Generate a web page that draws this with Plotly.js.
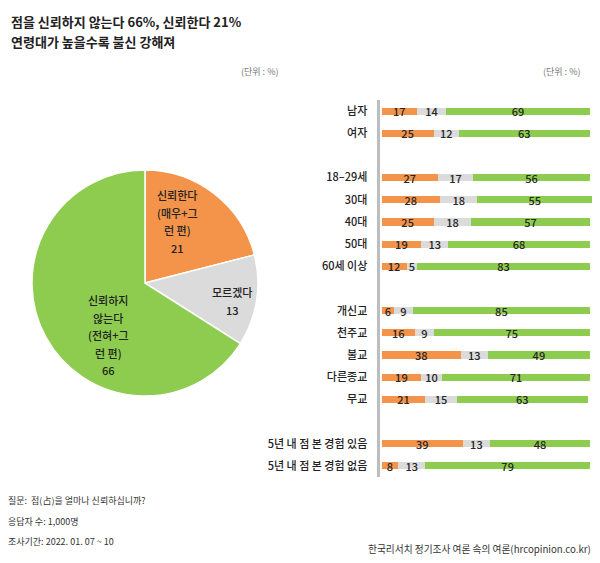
<!DOCTYPE html>
<html>
<head>
<meta charset="utf-8">
<script src="https://cdn.plot.ly/plotly-3.0.1.min.js"></script>
<style>
html,body{margin:0;padding:0;background:#fff;}
#chart{width:600px;height:563px;}
</style>
</head>
<body>
<div id="chart"></div>
<script>
// Pie data
const pieLabels = ['신뢰한다', '모르겠다', '신뢰하지 않는다'];
const pieValues = [21, 13, 66];
const pieTextLines = [
  ['신뢰한다', '(매우+그', '런 편)', '21'],
  ['모르겠다', '13'],
  ['신뢰하지', '않는다', '(전혀+그', '런 편)', '66']
];

// Bar data (null rows are spacer rows)
const categories = ['남자', '여자', ' ', '18–29세', '30대', '40대', '50대', '60세 이상', '  ',
  '개신교', '천주교', '불교', '다른종교', '무교', '   ', '5년 내 점 본 경험 있음', '5년 내 점 본 경험 없음'];
const trust    = [17, 25, null, 27, 28, 25, 19, 12, null, 6, 16, 38, 19, 21, null, 39, 8];
const unknown  = [14, 12, null, 17, 18, 18, 13, 5, null, 9, 9, 13, 10, 15, null, 13, 13];
const distrust = [69, 63, null, 56, 55, 57, 68, 83, null, 85, 75, 49, 71, 63, null, 48, 79];

const cOrange = '#F4944B', cGray = '#DBDBDB', cGreen = '#8DCC4E';
const font = 'Noto Sans CJK KR, Noto Sans, sans-serif';

function barTrace(vals, color, name) {
  return {
    type: 'bar', orientation: 'h', name: name,
    y: categories, x: vals,
    marker: {color: color, line: {width: 0}},
    text: vals.map(v => v === null ? '' : String(v)),
    textposition: 'inside', insidetextanchor: 'middle', textangle: 0,
    constraintext: 'none', cliponaxis: false,
    textfont: {family: font, size: 11, color: '#262626', weight: 500},
    hoverinfo: 'x+y', xaxis: 'x', yaxis: 'y'
  };
}

const data = [
  {
    type: 'pie', labels: pieLabels, values: pieValues,
    textinfo: 'none',
    sort: false, direction: 'clockwise', rotation: 0,
    marker: {colors: [cOrange, cGray, cGreen], line: {color: '#ffffff', width: 1.5}},
    domain: {x: [32/600, 258/600], y: [1 - 396/563, 1 - 170/563]},
    showlegend: false, hoverinfo: 'label+value'
  },
  barTrace(trust, cOrange, '신뢰한다'),
  barTrace(unknown, cGray, '모르겠다'),
  barTrace(distrust, cGreen, '신뢰하지 않는다')
];

function ann(text, xpx, ypx, opts) {
  return Object.assign({
    text: text, x: xpx / 600, y: 1 - ypx / 563, xref: 'paper', yref: 'paper',
    xanchor: 'left', yanchor: 'middle', showarrow: false,
    font: {family: font, size: 9, color: '#333'}
  }, opts || {});
}

const annotations = [
  ann('점을 신뢰하지 않는다 66%, 신뢰한다 21%', 9, 22, {font: {family: font, size: 13, color: '#222', weight: 600}}),
  ann('연령대가 높을수록 불신 강해져', 9, 42, {font: {family: font, size: 13, color: '#222', weight: 600}}),
  ann('(단위 : %)', 280, 71, {xanchor: 'right', font: {family: font, size: 9, color: '#777'}}),
  ann('(단위 : %)', 582, 71, {xanchor: 'right', font: {family: font, size: 9, color: '#777'}}),
  ann('질문:  점(占)을 얼마나 신뢰하십니까?', 6, 500),
  ann('응답자 수: 1,000명', 6, 521),
  ann('조사기간: 2022. 01. 07 ~ 10', 6, 541),
  ann('한국리서치 정기조사 여론 속의 여론(hrcopinion.co.kr)', 593, 549, {xanchor: 'right', font: {family: font, size: 9.7, color: '#333'}})
];

// pie slice labels, one line per annotation for the reference's line pitch
const pieLabelPos = [[177, 195], [232, 292], [108, 300]];
const linePitch = 17.5;
pieTextLines.forEach((lines, i) => {
  lines.forEach((line, j) => {
    annotations.push(ann(line, pieLabelPos[i][0], pieLabelPos[i][1] + j * linePitch,
      {xanchor: 'center', font: {family: font, size: 11, color: '#222', weight: 500}}));
  });
});

const layout = {
  width: 600, height: 563,
  margin: {l: 0, r: 0, t: 0, b: 0},
  paper_bgcolor: '#ffffff', plot_bgcolor: '#ffffff',
  showlegend: false, barmode: 'stack', bargap: 0.68,
  font: {family: font, color: '#222'},
  xaxis: {domain: [379.5/600, 592/600], range: [-1, 101], visible: false, fixedrange: true},
  yaxis: {
    domain: [1 - 477/563, 1 - 100/563], type: 'category',
    categoryorder: 'array', categoryarray: categories,
    autorange: 'reversed', showline: true, linecolor: '#BDBDBD', linewidth: 3,
    showgrid: false, zeroline: false, ticks: '', ticklabelstandoff: 7,
    tickfont: {family: font, size: 11, color: '#222', weight: 500}, fixedrange: true
  },
  annotations: annotations
};

Plotly.newPlot('chart', data, layout, {displayModeBar: false, staticPlot: true});
</script>
</body>
</html>
